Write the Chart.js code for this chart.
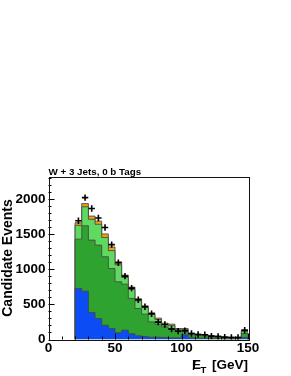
<!DOCTYPE html>
<html>
<head>
<meta charset="utf-8">
<script src="https://cdn.jsdelivr.net/npm/chart.js@4/dist/chart.umd.min.js"></script>
<style>
  html, body { margin: 0; padding: 0; background: #fff; }
  canvas { display: block; }
</style>
</head>
<body>
<canvas id="metChart" width="291" height="376"></canvas>
<script>
// bins of 5 GeV, lower edges
const binLow = [20, 25, 30, 35, 40, 45, 50, 55, 60, 65, 70, 75, 80, 85, 90, 95, 100, 105, 110, 115, 120, 125, 130, 135, 140, 145];
const binWidth = 5;

// stacked levels (cumulative, as drawn by the stack)
const stackTotal = [1667, 1940, 1762, 1690, 1507, 1321, 1110, 919, 748, 581, 481, 381, 305, 233, 219, 157, 157, 90, 76, 71, 52, 48, 38, 33, 33, 138];
const stackLight = [1630, 1895, 1716, 1645, 1457, 1269, 1067, 886, 714, 552, 457, 357, 286, 214, 200, 143, 143, 81, 67, 62, 48, 43, 33, 29, 29, 114];
const stackDark  = [1433, 1624, 1419, 1348, 1181, 1014, 824, 790, 586, 443, 362, 252, 219, 181, 157, 114, 114, 71, 57, 52, 38, 33, 29, 24, 24, 86];
const stackBlue  = [729, 690, 386, 300, 204, 157, 95, 133, 81, 52, 43, 33, 33, 29, 24, 24, 67, 24, 19, 19, 14, 14, 10, 10, 10, 29];
const dataCounts = [1695, 2025, 1871, 1735, 1600, 1355, 1095, 905, 733, 567, 467, 367, 248, 214, 148, 119, 124, 86, 71, 67, 48, 43, 33, 29, 29, 133];

const yTicks = [0, 500, 1000, 1500, 2000];
const xTicks = [0, 50, 100, 150];

function stepPoints(levels) {
  const last = binLow.length - 1;
  const pts = [{ x: binLow[0], y: 0 }];
  levels.forEach((v, i) => pts.push({ x: binLow[i], y: v }));
  pts.push({ x: binLow[last] + binWidth, y: levels[last] });
  pts.push({ x: binLow[last] + binWidth, y: 0 });
  return pts;
}

function histSet(label, levels, color) {
  return {
    label: label,
    data: stepPoints(levels),
    stepped: true,
    fill: 'origin',
    backgroundColor: color,
    borderColor: 'rgba(70,70,70,0.85)',
    borderWidth: 1,
    pointRadius: 0,
    tension: 0
  };
}

const decor = {
  id: 'decor',
  afterDatasetsDraw(chart) {
    const { ctx, chartArea: a, scales: { x, y } } = chart;
    ctx.save();
    ctx.strokeStyle = '#000';
    ctx.lineWidth = 1;
    // y ticks every 100, major every 500
    for (let v = 0; v <= 2300; v += 100) {
      const py = Math.round(y.getPixelForValue(v)) + 0.5;
      const len = v % 500 === 0 ? 6 : 3;
      ctx.beginPath();
      ctx.moveTo(a.left, py);
      ctx.lineTo(a.left + len, py);
      ctx.stroke();
    }
    // x ticks every 10, major every 50
    for (let v = 0; v <= 150; v += 10) {
      const px = Math.round(x.getPixelForValue(v)) + 0.5;
      const len = v % 50 === 0 ? 6 : 3;
      ctx.beginPath();
      ctx.moveTo(px, a.bottom);
      ctx.lineTo(px, a.bottom - len);
      ctx.stroke();
    }
    ctx.strokeStyle = '#111';
    ctx.strokeRect(Math.round(a.left) + 0.5, Math.round(a.top) + 0.5,
      Math.round(a.right - a.left), Math.round(a.bottom - a.top));
    ctx.restore();
  },
  afterDraw(chart) {
    const { ctx, chartArea: a } = chart;
    ctx.save();
    ctx.fillStyle = '#000';
    ctx.textBaseline = 'alphabetic';
    ctx.textAlign = 'left';
    ctx.font = 'bold 9.8px "Liberation Sans", Arial, sans-serif';
    ctx.fillText('W + 3 Jets, 0 b Tags', a.left, 175);

    // y title
    ctx.save();
    ctx.translate(8.5, 258);
    ctx.rotate(-Math.PI / 2);
    ctx.textAlign = 'center';
    ctx.textBaseline = 'middle';
    ctx.font = 'bold 14px "Liberation Sans", Arial, sans-serif';
    ctx.fillText('Candidate Events', 0, 0);
    ctx.restore();

    // x title: missing ET [GeV]
    ctx.textAlign = 'right';
    ctx.font = 'bold 13.5px "Liberation Sans", Arial, sans-serif';
    ctx.fillText('[GeV]', a.right, 369);
    ctx.textAlign = 'left';
    ctx.fillText('E', 192, 369);
    ctx.font = 'bold 12px "Liberation Sans", Arial, sans-serif';
    ctx.fillText('/', 192.5, 370);
    ctx.font = 'bold 9.5px "Liberation Sans", Arial, sans-serif';
    ctx.fillText('T', 200.5, 372.5);
    ctx.restore();
  }
};

const tickFont = { family: '"Liberation Sans", Arial, sans-serif', size: 13.5, weight: 'bold' };

const ctx = document.getElementById('metChart').getContext('2d');
const chart = new Chart(ctx, {
  type: 'line',
  data: {
    datasets: [
      {
        label: 'Data',
        data: dataCounts.map((v, i) => ({ x: binLow[i] + binWidth / 2, y: v })),
        showLine: false,
        pointStyle: 'cross',
        pointRadius: 3.2,
        pointBorderWidth: 1.6,
        borderColor: '#000',
        backgroundColor: '#000'
      },
      histSet('W+bb/cc/c etc', stackBlue, '#0b4cf5'),
      histSet('W+LF', stackDark, '#2fa32f'),
      histSet('W+LF 2', stackLight, '#5fd95f'),
      histSet('Other', stackTotal, '#f5a000')
    ]
  },
  options: {
    responsive: false,
    animation: false,
    devicePixelRatio: 1,
    layout: { padding: { top: 177, right: 43, left: 0, bottom: 0 } },
    plugins: { legend: { display: false }, title: { display: false }, tooltip: { enabled: false } },
    scales: {
      x: {
        type: 'linear',
        min: 0,
        max: 150,
        offset: false,
        grid: { display: false, drawTicks: false },
        border: { display: false },
        afterBuildTicks: s => { s.ticks = xTicks.map(v => ({ value: v })); },
        afterFit: s => { s.height = 36.5; },
        ticks: { color: '#000', padding: 1, maxRotation: 0, font: tickFont, callback: v => String(v) }
      },
      y: {
        min: 0,
        max: 2320,
        grid: { display: false, drawTicks: false },
        border: { display: false },
        afterBuildTicks: s => { s.ticks = yTicks.map(v => ({ value: v })); },
        afterFit: s => { s.width = 48.5; },
        ticks: { color: '#000', padding: 3, font: tickFont, callback: v => String(v) }
      }
    }
  },
  plugins: [decor]
});
</script>
</body>
</html>
